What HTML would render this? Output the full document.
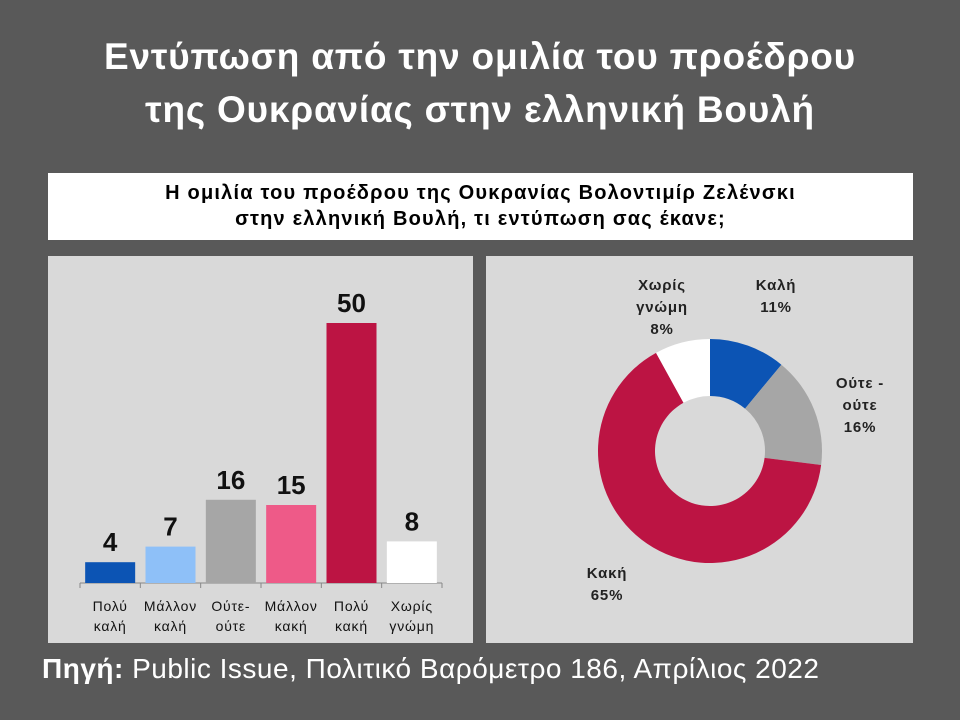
<!DOCTYPE html>
<html><head><meta charset="utf-8"><style>
body{margin:0;width:960px;height:720px;background:#595959;font-family:"Liberation Sans","DejaVu Sans",sans-serif;position:relative;overflow:hidden}
.t{position:absolute;left:0;width:960px;text-align:center;color:#fff;font-weight:bold;font-size:37px;letter-spacing:0.8px}
</style></head><body>
<div class="t" style="top:36px">Εντύπωση από την ομιλία του προέδρου</div>
<div class="t" style="top:89px">της Ουκρανίας στην ελληνική Βουλή</div>
<div style="position:absolute;left:48px;top:173px;width:865px;height:67px;background:#fff;text-align:center;font-weight:bold;font-size:20px;letter-spacing:1.2px;line-height:26px;padding-top:7px;box-sizing:border-box">Η ομιλία του προέδρου της Ουκρανίας Βολοντιμίρ Ζελένσκι<br>στην ελληνική Βουλή, τι εντύπωση σας έκανε;</div>
<div style="position:absolute;left:48px;top:256px;width:425px;height:387px;background:#d9d9d9"></div>
<div style="position:absolute;left:486px;top:256px;width:427px;height:387px;background:#d9d9d9"></div>
<svg id="s" width="960" height="720" style="position:absolute;left:0;top:0" font-family="Liberation Sans, DejaVu Sans, sans-serif"></svg>
<div style="position:absolute;left:42px;top:653px;color:#fff;font-size:28px;letter-spacing:0.5px"><b>Πηγή:</b> Public Issue, Πολιτικό Βαρόμετρο 186, Απρίλιος 2022</div>
<script>
const barCats=[["Πολύ","καλή"],["Μάλλον","καλή"],["Ούτε-","ούτε"],["Μάλλον","κακή"],["Πολύ","κακή"],["Χωρίς","γνώμη"]];
const barVals=[4,7,16,15,50,8];
const barColors=["#0c54b4","#8ec0f8","#a6a6a6","#ee5a88","#bc1443","#ffffff"];
const pieCats=[["Καλή"],["Ούτε -","ούτε"],["Κακή"],["Χωρίς","γνώμη"]];
const pieVals=[11,16,65,8];
const pieColors=["#0c54b4","#a6a6a6","#bc1443","#ffffff"];
const s=document.getElementById('s');const N='http://www.w3.org/2000/svg';
function mk(t,a,p){const e=document.createElementNS(N,t);for(const k in a)e.setAttribute(k,a[k]);(p||s).appendChild(e);return e}
const x0=80,x1=442,base=583,ppu=5.2,slot=(x1-x0)/barVals.length;
const yS=v=>base-v*ppu;
mk('line',{x1:x0,x2:x1,y1:base,y2:base,stroke:'#888','stroke-width':1});
for(let i=0;i<=barVals.length;i++){mk('line',{x1:x0+i*slot,x2:x0+i*slot,y1:base,y2:base+5,stroke:'#888'});}
barVals.forEach((v,i)=>{
const cx=x0+slot*(i+.5);
const r=mk('rect',{x:cx-25,y:yS(v),width:50,height:v*ppu,fill:barColors[i]});


const l=mk('text',{x:cx,y:yS(v)-11,'text-anchor':'middle','font-size':26,'font-weight':'bold',fill:'#111'});l.textContent=v;


barCats[i].forEach((w,j)=>{const c=mk('text',{x:cx,y:611+j*20,'text-anchor':'middle','font-size':14,'letter-spacing':0.8,fill:'#111'});c.textContent=w;

});
});
const cx=710,cy=451,R=112,r0=55,lab=[[776,290],[860,388],[607,578],[662,290]];
let a=0;const tot=pieVals.reduce((p,q)=>p+q,0);
pieVals.forEach((v,i)=>{
const a1=a+v/tot*2*Math.PI;const P=(rad,ang)=>[cx+rad*Math.sin(ang),cy-rad*Math.cos(ang)];
const [ax,ay]=P(R,a),[bx,by]=P(R,a1),[cx2,cy2]=P(r0,a1),[dx,dy]=P(r0,a);const lg=(a1-a)>Math.PI?1:0;
const p=mk('path',{d:`M${ax},${ay}A${R},${R} 0 ${lg} 1 ${bx},${by}L${cx2},${cy2}A${r0},${r0} 0 ${lg} 0 ${dx},${dy}Z`,fill:pieColors[i]});


const lines=pieCats[i].concat([v+'%']);
lines.forEach((w,j)=>{const t=mk('text',{x:lab[i][0],y:lab[i][1]+j*22,'text-anchor':'middle','font-size':15,'letter-spacing':0.8,'font-weight':'bold',fill:'#222'});t.textContent=w;

});
a=a1;});
</script>
</body></html>
